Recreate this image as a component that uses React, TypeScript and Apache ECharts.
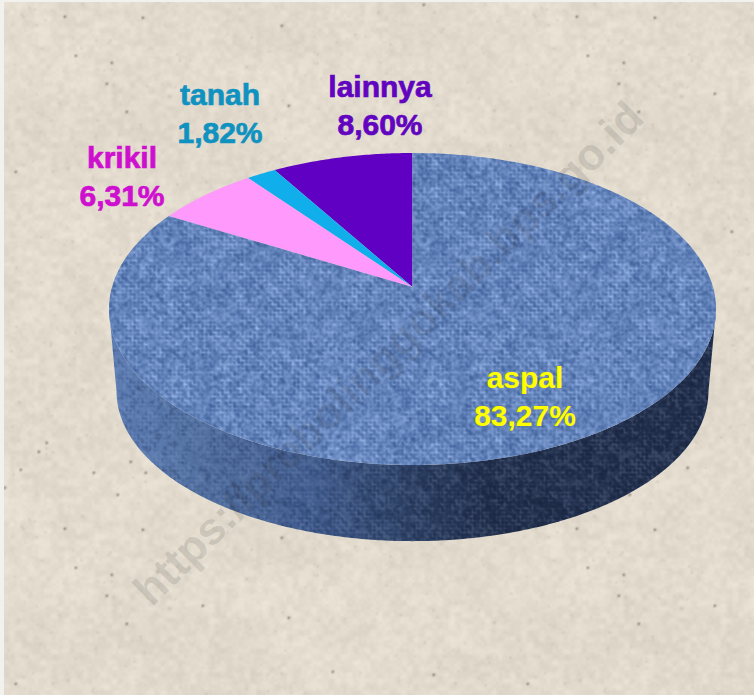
import React, { useEffect, useRef } from "react";
import * as echarts from "echarts";

// Road surface shares, listed counter-clockwise from twelve o'clock.
const categories = ["lainnya", "tanah", "krikil", "aspal"];
const shares = [8.6, 1.82, 6.31, 83.27];
const sliceColors = ["#5f00c2", "#10aeea", "#ff99fb", ""];
const labelColors = ["#6204bf", "#1092c0", "#cf0fcf", "#ffff00"];
const labelAnchors = [
  [380, 105],
  [220, 113],
  [122, 176],
  [525, 396],
];
const watermark = "https://probolinggokab.bps.go.id";

// Perspective of the disc: the unit circle is projected on to the page.
const topRim = { cx: 412.5, cy: 287, a: 300.5, b: 152.9, p: -0.141 };
const bottomRim = { cx: 412.5, cy: 370, a: 293, b: 147, p: -0.141 };
type Rim = typeof topRim;

function rimPoint(rim: Rim, turn: number): number[] {
  const u = -Math.sin(turn);
  const v = -Math.cos(turn);
  const w = 1 + rim.p * v;
  return [rim.cx + (rim.a * u) / w, rim.cy + (rim.b * v) / w];
}

function arcPoints(rim: Rim, from: number, to: number): number[][] {
  const steps = Math.max(2, Math.ceil(Math.abs(to - from) / 0.01));
  const pts: number[][] = [];
  for (let i = 0; i <= steps; i++) pts.push(rimPoint(rim, from + ((to - from) * i) / steps));
  return pts;
}

// Small seeded generator used only for the cloth and paper grain.
function grain(seed: number) {
  let s = seed >>> 0;
  return () => {
    s = (Math.imul(s, 1664525) + 1013904223) >>> 0;
    return (s >>> 8) / 16777216;
  };
}

function smooth(src: Float32Array, n: number, passes: number): Float32Array {
  let a = src;
  for (let k = 0; k < passes; k++) {
    const b = new Float32Array(n * n);
    for (let y = 0; y < n; y++) {
      for (let x = 0; x < n; x++) {
        let t = 0;
        for (let dy = -1; dy <= 1; dy++) {
          for (let dx = -1; dx <= 1; dx++) {
            const wt = (dx === 0 ? 2 : 1) * (dy === 0 ? 2 : 1);
            t += wt * a[((y + dy + n) % n) * n + ((x + dx + n) % n)];
          }
        }
        b[y * n + x] = t / 16;
      }
    }
    a = b;
  }
  return a;
}

// Wrapping value noise in the range -0.5..0.5, so the tiles repeat without seams.
function valueNoise(n: number, cell: number, rnd: () => number): Float32Array {
  const m = Math.max(1, Math.round(n / cell));
  const lattice = new Float32Array(m * m);
  for (let i = 0; i < lattice.length; i++) lattice[i] = rnd() - 0.5;
  const ease = (t: number) => t * t * (3 - 2 * t);
  const f = new Float32Array(n * n);
  for (let y = 0; y < n; y++) {
    const gy = (y / n) * m;
    const y0 = Math.floor(gy);
    const ty = ease(gy - y0);
    for (let x = 0; x < n; x++) {
      const gx = (x / n) * m;
      const x0 = Math.floor(gx);
      const tx = ease(gx - x0);
      const at = (i: number, j: number) => lattice[((j + m) % m) * m + ((i + m) % m)];
      const top = at(x0, y0) * (1 - tx) + at(x0 + 1, y0) * tx;
      const bot = at(x0, y0 + 1) * (1 - tx) + at(x0 + 1, y0 + 1) * tx;
      f[y * n + x] = top * (1 - ty) + bot * ty;
    }
  }
  return f;
}

function tileUrl(n: number, paint: (x: number, y: number) => number[]): string {
  const canvas = document.createElement("canvas");
  canvas.width = n;
  canvas.height = n;
  const ctx = canvas.getContext("2d")!;
  const img = ctx.createImageData(n, n);
  for (let y = 0; y < n; y++) {
    for (let x = 0; x < n; x++) {
      const c = paint(x, y);
      const i = (y * n + x) * 4;
      img.data[i] = c[0];
      img.data[i + 1] = c[1];
      img.data[i + 2] = c[2];
      img.data[i + 3] = c[3];
    }
  }
  ctx.putImageData(img, 0, 0);
  return canvas.toDataURL("image/png");
}

// Thread pattern: short light warp and weft runs, fine fibre noise and faint mottling.
function weaveField(n: number, seed: number): Float32Array {
  const rnd = grain(seed);
  const fine = valueNoise(n, 2, rnd);
  const mid = valueNoise(n, 4, rnd);
  const blotch = valueNoise(n, 18, rnd);
  const runs = valueNoise(n, 8, rnd);
  const raw = new Float32Array(n * n);
  for (let y = 0; y < n; y++) {
    for (let x = 0; x < n; x++) {
      const i = y * n + x;
      const over = ((x >> 2) + (y >> 2)) % 2 === 0;
      const weft = y % 4 === 0 && over ? 0.75 : 0;
      const warp = x % 4 === 0 && !over ? 0.55 : 0;
      const gap = x % 4 === 2 && y % 4 === 2 ? -0.6 : 0;
      raw[i] = (weft + warp + gap) * (0.6 + runs[i]) + fine[i] * 0.7 + mid[i] * 0.5 + blotch[i] * 0.16;
    }
  }
  return smooth(raw, n, 1);
}

function clothTile(): string {
  const n = 256;
  const f = weaveField(n, 20231);
  return tileUrl(n, (x, y) => {
    const l = f[y * n + x] * 66;
    return [95 + l, 127 + l, 183 + l * 0.9, 255];
  });
}

// Translucent grain laid over the shaded side wall.
function wallTile(): string {
  const n = 256;
  const f = weaveField(n, 7741);
  return tileUrl(n, (x, y) => {
    const l = f[y * n + x];
    return l > 0 ? [170, 190, 225, Math.min(40, l * 90)] : [0, 0, 20, Math.min(55, -l * 130)];
  });
}

function paperTile(): string {
  const n = 512;
  const rnd = grain(99173);
  const soft = valueNoise(n, 6, rnd);
  const wide = valueNoise(n, 40, rnd);
  const fine = valueNoise(n, 3, rnd);
  const specks = new Float32Array(n * n);
  for (let i = 0; i < 520; i++) {
    const big = rnd() < 0.1;
    const x = Math.floor(rnd() * n);
    const y = Math.floor(rnd() * n);
    const depth = big ? 1.3 : 0.5 * rnd() + 0.25;
    specks[y * n + x] += depth;
    if (big) {
      specks[y * n + ((x + 1) % n)] += depth;
      specks[((y + 1) % n) * n + x] += depth;
    }
  }
  const dots = smooth(specks, n, 2);
  return tileUrl(n, (x, y) => {
    const i = y * n + x;
    const l = soft[i] * 12 + wide[i] * 7 + fine[i] * 6 - dots[i] * 130;
    return [225 + l, 218 + l, 205 + l, 255];
  });
}

export default function App() {
  const host = useRef<HTMLDivElement>(null);

  useEffect(() => {
    if (!host.current) return;
    const chart = echarts.init(host.current, undefined, { renderer: "svg" });
    const cloth = { image: clothTile(), repeat: "repeat", imageWidth: 256, imageHeight: 256 };
    const wallGrain = { image: wallTile(), repeat: "repeat", imageWidth: 256, imageHeight: 256 };
    const paper = { image: paperTile(), repeat: "repeat", imageWidth: 512, imageHeight: 512 };

    const total = shares.reduce((sum, v) => sum + v, 0);
    const toAngle = (v: number) => (v / total) * Math.PI * 2;

    const wallShade = new echarts.graphic.LinearGradient(0, 0, 1, 0, [
      { offset: 0, color: "#5b7bb2" },
      { offset: 0.15, color: "#506e9f" },
      { offset: 0.33, color: "#3f5a8c" },
      { offset: 0.47, color: "#2e4368" },
      { offset: 0.62, color: "#212f4c" },
      { offset: 1, color: "#202e4b" },
    ]);

    chart.setOption({
      animation: false,
      backgroundColor: "#f3f1ed",
      graphic: [
        { type: "rect", z: -10, silent: true, shape: { x: 4, y: 2, width: 750, height: 693 }, style: { fill: paper } },
        {
          type: "text",
          z: 50,
          silent: true,
          x: 388,
          y: 353,
          rotation: (44.6 * Math.PI) / 180,
          style: {
            text: watermark,
            font: 'bold 44.5px "Liberation Sans", Arial, sans-serif',
            fill: "rgba(50,48,44,0.15)",
            textAlign: "center",
            textVerticalAlign: "middle",
          },
        },
      ],
      series: [
        {
          // Side wall of the disc; only the largest slice faces the viewer.
          type: "custom",
          coordinateSystem: "none",
          silent: true,
          z: 1,
          data: [[shares[3]]],
          renderItem: () => {
            const from = Math.PI * 2 - 1.714;
            const to = 1.714;
            const upper = arcPoints(topRim, from, to);
            const lower = arcPoints(bottomRim, from, to).reverse();
            const points = upper.concat(lower);
            return {
              type: "group",
              children: [
                { type: "polygon", shape: { points }, style: { fill: wallShade } },
                { type: "polygon", shape: { points }, style: { fill: wallGrain } },
              ],
            };
          },
        },
        {
          // Top face: the slices, counter-clockwise from twelve o'clock.
          type: "custom",
          coordinateSystem: "none",
          silent: true,
          z: 2,
          data: shares.map((v) => [v]),
          renderItem: (params: any, api: any) => {
            const i = params.dataIndex;
            const before = shares.slice(0, i).reduce((sum, v) => sum + v, 0);
            const start = toAngle(before);
            const end = start + toAngle(api.value(0));
            const points = [[topRim.cx, topRim.cy], ...arcPoints(topRim, start, end)];
            return {
              type: "polygon",
              shape: { points },
              style: { fill: sliceColors[i] || cloth },
            };
          },
        },
        {
          // Category and percentage captions.
          type: "custom",
          coordinateSystem: "none",
          silent: true,
          z: 3,
          data: shares.map((v) => [v]),
          renderItem: (params: any, api: any) => {
            const i = params.dataIndex;
            const [x, y] = labelAnchors[i];
            const pct = api.value(0).toFixed(2).replace(".", ",") + "%";
            return {
              type: "text",
              x,
              y,
              style: {
                text: categories[i] + "\n" + pct,
                font: 'bold 30px "Liberation Sans", Arial, sans-serif',
                lineHeight: 38,
                fill: labelColors[i],
                stroke: i === 3 ? "rgba(150,150,40,0.55)" : labelColors[i],
                lineWidth: 0.7,
                textAlign: "center",
                textVerticalAlign: "middle",
              },
            };
          },
        },
      ],
    });

    return () => chart.dispose();
  }, []);

  return <div ref={host} style={{ position: "fixed", left: 0, top: 0, width: 754, height: 695 }} />;
}
